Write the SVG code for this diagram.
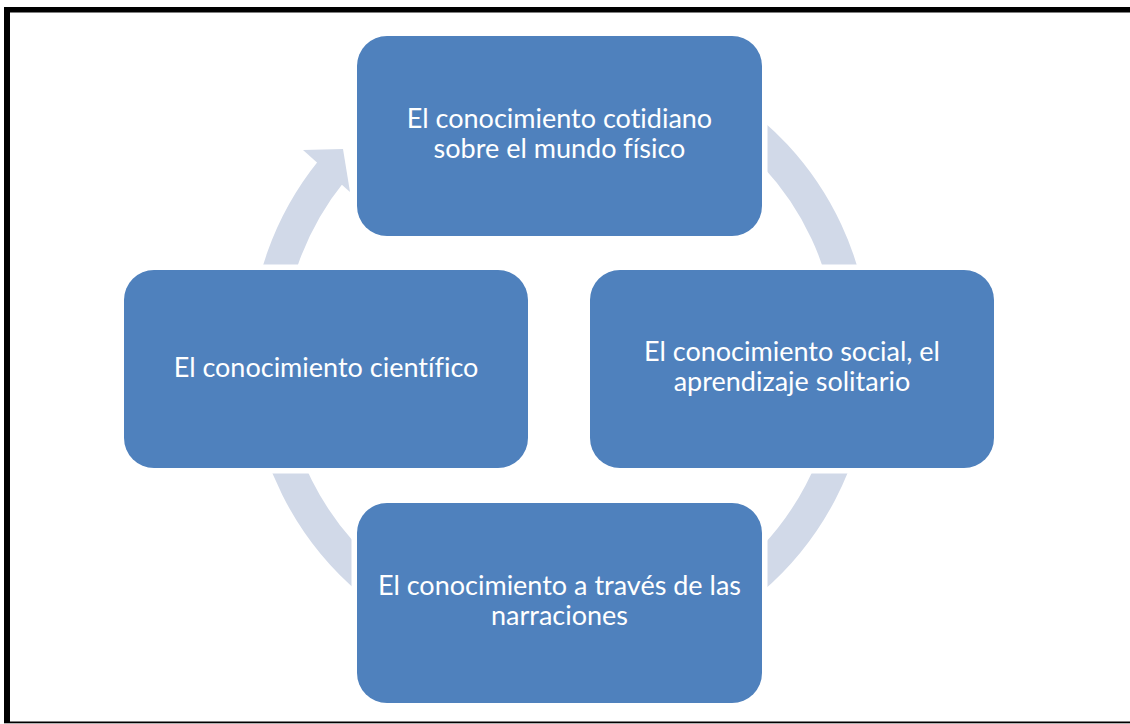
<svg xmlns="http://www.w3.org/2000/svg" width="1130" height="724" viewBox="0 0 1130 724">
  <style>
    .halo { fill: #ffffff; }
    .box { fill: #4F81BD; }
    .lbl { font-family: Lato, "Open Sans", sans-serif; font-size: 27px; fill: #ffffff; text-anchor: middle; font-variant-ligatures: none; }
    .band { fill: none; stroke: #D1D9E8; stroke-width: 33; stroke-linecap: butt; }
    .head { fill: #D1D9E8; }
  </style>
  <rect x="0" y="0" width="1130" height="724" fill="#ffffff"/>
  <g id="frame" fill="#000">
    <rect x="4" y="7" width="1126" height="5.5"/>
    <rect x="4" y="7" width="6" height="716"/>
    <rect x="4" y="721.5" width="1126" height="1.8"/>
  </g>
  <g id="connectors">
    <path class="band" d="M266,356 A294,294 0 0 1 331.5,171"/>
    <polygon class="head" points="343,149 303,150 350,192"/>
    <path class="band" d="M707,101.4 A294,294 0 0 1 849.5,407.1"/>
    <path class="band" d="M852.9,381.6 A294,294 0 0 1 509,645.5"/>
    <path class="band" d="M585.6,648.9 A294,294 0 0 1 267.1,381.6"/>
  </g>
  <g id="node-top">
    <rect class="halo" x="351.5" y="30.5" width="416" height="211" rx="35"/>
    <rect class="box" x="357" y="36" width="405" height="200" rx="30"/>
    <text class="lbl" x="559.5" y="128">El conocimiento cotidiano</text>
    <text class="lbl" x="559.5" y="158">sobre el mundo físico</text>
  </g>
  <g id="node-right">
    <rect class="halo" x="584.5" y="264.5" width="415" height="209" rx="35"/>
    <rect class="box" x="590" y="270" width="404" height="198" rx="30"/>
    <text class="lbl" x="792" y="361">El conocimiento social, el</text>
    <text class="lbl" x="792" y="391">aprendizaje solitario</text>
  </g>
  <g id="node-bottom">
    <rect class="halo" x="351.5" y="497.5" width="416" height="211" rx="35"/>
    <rect class="box" x="357" y="503" width="405" height="200" rx="30"/>
    <text class="lbl" x="559.5" y="595">El conocimiento a través de las</text>
    <text class="lbl" x="559.5" y="625">narraciones</text>
  </g>
  <g id="node-left">
    <rect class="halo" x="118.5" y="264.5" width="415" height="209" rx="35"/>
    <rect class="box" x="124" y="270" width="404" height="198" rx="30"/>
    <text class="lbl" x="326" y="377">El conocimiento científico</text>
  </g>
</svg>
